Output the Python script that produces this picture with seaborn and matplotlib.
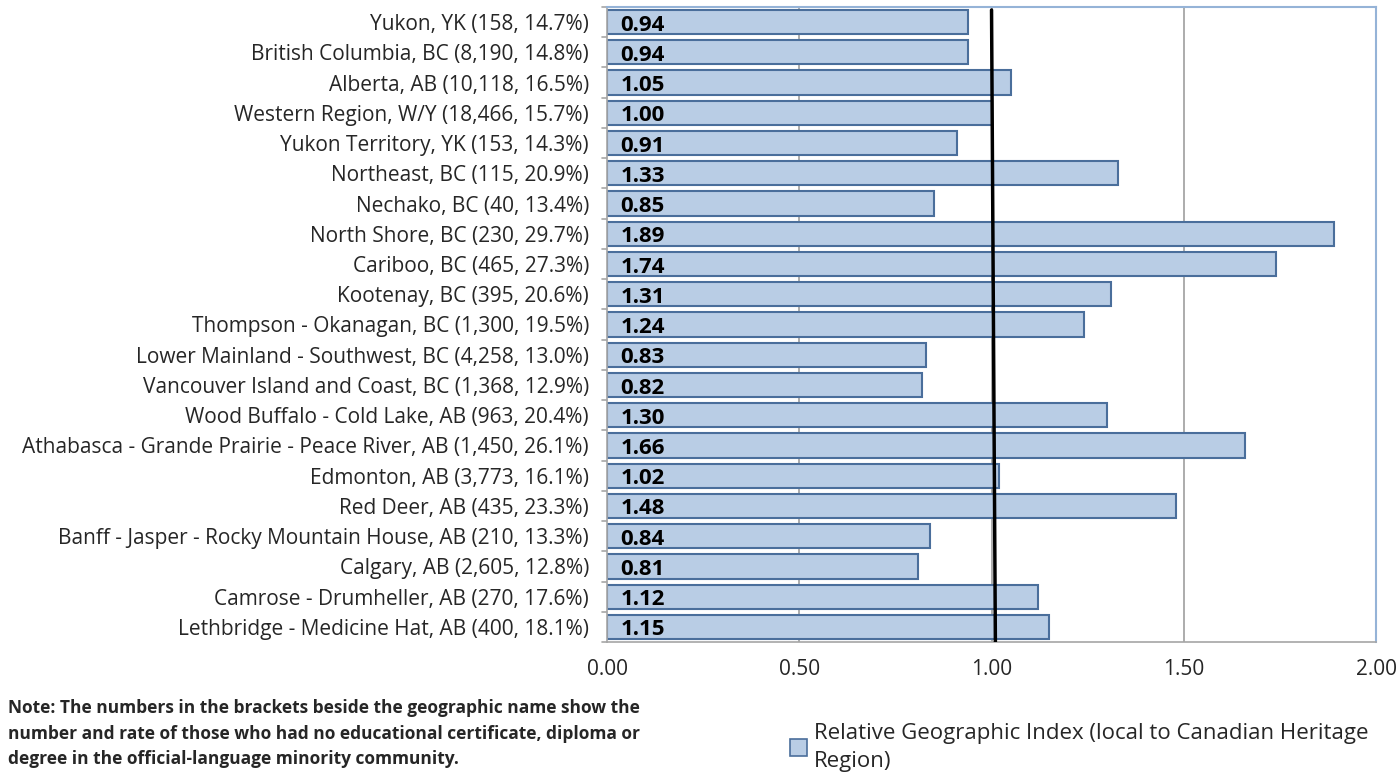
import matplotlib
matplotlib.use('Agg')
import matplotlib.pyplot as plt
import matplotlib.patches as mpatches
import seaborn as sns
from pandas import DataFrame

regions = ["Yukon, YK (158, 14.7%)", "British Columbia, BC (8,190, 14.8%)",
           "Alberta, AB (10,118, 16.5%)", "Western Region, W/Y (18,466, 15.7%)",
           "Yukon Territory, YK (153, 14.3%)", "Northeast, BC (115, 20.9%)",
           "Nechako, BC (40, 13.4%)", "North Shore, BC (230, 29.7%)",
           "Cariboo, BC (465, 27.3%)", "Kootenay, BC (395, 20.6%)",
           "Thompson - Okanagan, BC (1,300, 19.5%)",
           "Lower Mainland - Southwest, BC (4,258, 13.0%)",
           "Vancouver Island and Coast, BC (1,368, 12.9%)",
           "Wood Buffalo - Cold Lake, AB (963, 20.4%)",
           "Athabasca - Grande Prairie - Peace River, AB (1,450, 26.1%)",
           "Edmonton, AB (3,773, 16.1%)", "Red Deer, AB (435, 23.3%)",
           "Banff - Jasper - Rocky Mountain House, AB (210, 13.3%)",
           "Calgary, AB (2,605, 12.8%)", "Camrose - Drumheller, AB (270, 17.6%)",
           "Lethbridge - Medicine Hat, AB (400, 18.1%)"]
index_values = [0.94, 0.94, 1.05, 1.00, 0.91, 1.33, 0.85, 1.89, 1.74, 1.31, 1.24,
                0.83, 0.82, 1.30, 1.66, 1.02, 1.48, 0.84, 0.81, 1.12, 1.15]
xticks = [0.0, 0.5, 1.0, 1.5, 2.0]

df = DataFrame({"region": regions, "rgi": index_values})

sns.set_style("white")
plt.rcParams['font.family'] = ['Open Sans', 'DejaVu Sans']

fig = plt.figure(figsize=(13.99, 7.74), dpi=100)
ax = fig.add_axes([0.4339, 0.1705, 0.5497, 0.8205])

bar_fill = "#B9CDE5"
bar_edge = "#4A6E9B"
sns.barplot(data=df, x="rgi", y="region", orient="h", color=bar_fill,
            edgecolor=bar_edge, linewidth=1.5, width=0.8, saturation=1, ax=ax)

# value labels inside the bars
for bar, v in zip(ax.patches, index_values):
    ax.text(0.035, bar.get_y() + bar.get_height() / 2 + 0.1, f"{v:.2f}",
            ha="left", va="center", fontsize=16, fontweight="bold", color="black")

ax.set_xlim(0, 2.0)
ax.set_ylim(len(regions) - 0.5, -0.5)
ax.set_xticks(xticks)
ax.set_xticklabels([f"{t:.2f}" for t in xticks], fontsize=15)
ax.tick_params(axis="y", labelsize=15, length=0, pad=13)
ax.tick_params(axis="x", length=0, pad=12)
ax.set_xlabel("")
ax.set_ylabel("")

# gridlines
for t in xticks[1:4]:
    ax.axvline(t, color="#A6A6A6", lw=1.3, zorder=0)
ax.set_axisbelow(True)

# Canadian average reference line
ax.plot([1.0, 1.01], [-0.4, len(regions) - 0.45], color="black", lw=2.5, zorder=5)

for s in ["left", "bottom"]:
    ax.spines[s].set_color("#A6A6A6")
    ax.spines[s].set_linewidth(1.2)
for s in ["top", "right"]:
    ax.spines[s].set_color("#95B3D7")
    ax.spines[s].set_linewidth(1.5)

# small tick marks at category boundaries on left axis
for i in range(len(regions) + 1):
    ax.plot([-0.012, 0], [i - 0.5, i - 0.5], color="#A6A6A6", lw=1.2, clip_on=False)

fig.text(0.006, 0.052, "Note: The numbers in the brackets beside the geographic name show the\n"
         "number and rate of those who had no educational certificate, diploma or\n"
         "degree in the official-language minority community.",
         fontsize=12.5, fontweight="bold", va="center", ha="left", linespacing=1.55)

handle = mpatches.Patch(facecolor=bar_fill, edgecolor=bar_edge, linewidth=1.2)
leg = fig.legend([handle], ["Relative Geographic Index (local to Canadian Heritage\nRegion)"],
                 loc="upper left", bbox_to_anchor=(0.558, 0.078), frameon=False,
                 fontsize=16, handlelength=0.8, handleheight=0.8, handletextpad=0.3,
                 borderaxespad=0)
leg.get_texts()[0].set_linespacing(1.45)

fig.savefig("out.png", dpi=100)
